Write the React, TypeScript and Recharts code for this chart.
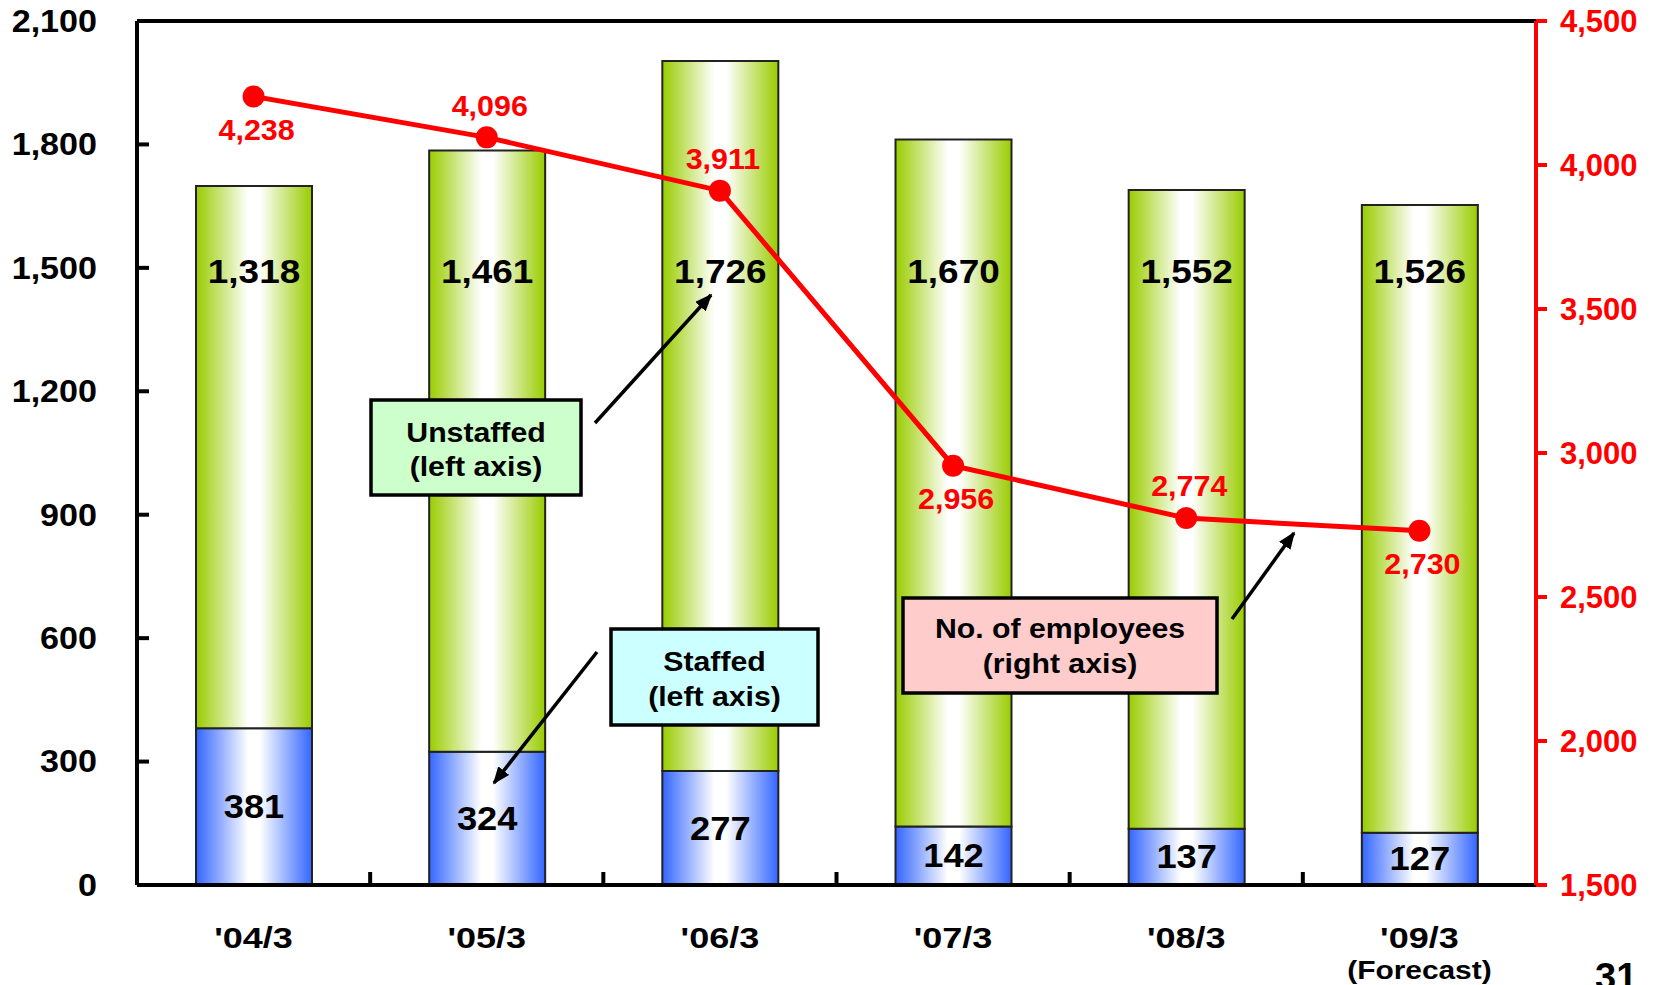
import { ComposedChart, Bar, Line, XAxis, YAxis, LabelList, ReferenceLine } from "recharts";

const categories = ["'04/3", "'05/3", "'06/3", "'07/3", "'08/3", "'09/3"];
const staffed = [381, 324, 277, 142, 137, 127];
const unstaffed = [1318, 1461, 1726, 1670, 1552, 1526];
const employees = [4238, 4096, 3911, 2956, 2774, 2730];
const leftTicks = [0, 300, 600, 900, 1200, 1500, 1800, 2100];
const rightTicks = [1500, 2000, 2500, 3000, 3500, 4000, 4500];
const forecastNote = "(Forecast)";
const pageNumber = "31";

// where each employee label sits relative to its point
const employeeLabelSide = ["below", "above", "above", "below", "above", "below"];

const W = 1656;
const H = 985;
const MARGIN = { top: 21, right: 20, bottom: 40, left: 37 };
const AXIS_W = 100;
const XAXIS_H = 60;
const PLOT_W = W - MARGIN.left - MARGIN.right - 2 * AXIS_W;
const BAND = PLOT_W / categories.length;
const UNSTAFFED_LABEL_LEVEL = 1492; // left-axis value where the green labels sit

const FONT = "'Liberation Sans', Arial, sans-serif";
const RED = "#FF0000";

const fmt = (n: number) => n.toLocaleString("en-US");

const data = categories.map((name, i) => ({
  name,
  staffed: staffed[i],
  unstaffed: unstaffed[i],
  employees: employees[i],
}));

// the slide's text is a bit wider than plain Arial, so stretch it horizontally
const SText = ({ x, y, sx = 1, size, anchor = "middle", fill = "#000", dy, children }: any) => (
  <text
    transform={`translate(${x} ${y}) scale(${sx} 1)`}
    x={0}
    y={0}
    dy={dy}
    textAnchor={anchor}
    fontFamily={FONT}
    fontSize={size}
    fontWeight="bold"
    fill={fill}
  >
    {children}
  </text>
);

const LeftTick = (props: any) => {
  const { x, y, payload } = props;
  return (
    <g>
      <SText x={x} y={y} dy="0.35em" sx={1.1} size={31} anchor="end">
        {fmt(payload.value)}
      </SText>
      <line x1={x + 40} x2={x + 52} y1={y} y2={y} stroke="#000" strokeWidth={4} />
    </g>
  );
};

const RightTick = (props: any) => {
  const { x, y, payload } = props;
  return (
    <SText x={x} y={y} dy="0.35em" sx={1.0} size={31} anchor="start" fill={RED}>
      {fmt(payload.value)}
    </SText>
  );
};

const CategoryTick = (props: any) => {
  const { x, y, payload, index } = props;
  const last = index === categories.length - 1;
  return (
    <g>
      <SText x={x} y={y + 63} sx={1.2} size={30}>
        {payload.value}
      </SText>
      {last && (
        <SText x={x} y={y + 94} sx={1.15} size={26}>
          {forecastNote}
        </SText>
      )}
      {!last && <line x1={x + BAND / 2} x2={x + BAND / 2} y1={y - 13} y2={y} stroke="#000" strokeWidth={4} />}
    </g>
  );
};

const StaffedLabel = (props: any) => {
  const vb = props.viewBox ?? props;
  const i = props.index ?? 0;
  const { x, y, width, height } = vb;
  return (
    <SText x={x + width / 2} y={y + height / 2} dy="0.35em" sx={1.1} size={33}>
      {fmt(staffed[i])}
    </SText>
  );
};

const UnstaffedLabel = (props: any) => {
  const vb = props.viewBox ?? props;
  const i = props.index ?? 0;
  const { x, y, width, height } = vb;
  const ppu = height / unstaffed[i];
  const zeroY = y + height + staffed[i] * ppu;
  const ly = zeroY - UNSTAFFED_LABEL_LEVEL * ppu;
  return (
    <SText x={x + width / 2} y={ly} dy="0.35em" sx={1.12} size={33}>
      {fmt(unstaffed[i])}
    </SText>
  );
};

const EmployeeLabel = (props: any) => {
  const { x, y, index } = props;
  const below = employeeLabelSide[index] === "below";
  return (
    <SText x={x + 3} y={below ? y + 33 : y - 32} dy="0.35em" sx={1.05} size={29} fill={RED}>
      {fmt(employees[index])}
    </SText>
  );
};

const Callout = ({ x, y, w, h, fill, lines, baselines }: any) => (
  <g>
    <rect x={x} y={y} width={w} height={h} fill={fill} stroke="#000" strokeWidth={3.5} />
    {lines.map((t: string, k: number) => (
      <SText key={k} x={x + w / 2} y={baselines[k]} sx={1.08} size={28}>
        {t}
      </SText>
    ))}
  </g>
);

export default function App() {
  return (
    <div style={{ position: "absolute", left: 0, top: 0, width: W, height: H, background: "#fff", overflow: "hidden" }}>
      <ComposedChart width={W} height={H} data={data} margin={MARGIN}>
        <defs>
          <linearGradient id="gStaffed" x1="0" y1="0" x2="1" y2="0">
            <stop offset="0%" stopColor="#3366FF" />
            <stop offset="45%" stopColor="#FFFFFF" />
            <stop offset="55%" stopColor="#FFFFFF" />
            <stop offset="100%" stopColor="#3366FF" />
          </linearGradient>
          <linearGradient id="gUnstaffed" x1="0" y1="0" x2="1" y2="0">
            <stop offset="0%" stopColor="#99CC00" />
            <stop offset="45%" stopColor="#FFFFFF" />
            <stop offset="55%" stopColor="#FFFFFF" />
            <stop offset="100%" stopColor="#99CC00" />
          </linearGradient>
        </defs>
        <XAxis
          dataKey="name"
          height={XAXIS_H}
          tick={<CategoryTick />}
          tickLine={false}
          tickSize={0}
          tickMargin={0}
          interval={0}
          axisLine={{ stroke: "#000", strokeWidth: 4 }}
        />
        <YAxis
          yAxisId="left"
          width={AXIS_W}
          domain={[0, 2100]}
          ticks={leftTicks}
          interval={0}
          tick={<LeftTick />}
          tickLine={false}
          tickSize={0}
          tickMargin={40}
          axisLine={{ stroke: "#000", strokeWidth: 4 }}
        />
        <YAxis
          yAxisId="right"
          orientation="right"
          width={AXIS_W}
          domain={[1500, 4500]}
          ticks={rightTicks}
          interval={0}
          tick={<RightTick />}
          tickLine={{ stroke: RED, strokeWidth: 4 }}
          tickSize={11}
          tickMargin={13}
          axisLine={{ stroke: RED, strokeWidth: 4 }}
        />
        <ReferenceLine yAxisId="left" y={2100} stroke="#000" strokeWidth={4} />
        <Bar yAxisId="left" dataKey="staffed" stackId="s" barSize={116} fill="url(#gStaffed)" stroke="#222" strokeWidth={2} isAnimationActive={false}>
          <LabelList dataKey="staffed" content={<StaffedLabel />} />
        </Bar>
        <Bar yAxisId="left" dataKey="unstaffed" stackId="s" barSize={116} fill="url(#gUnstaffed)" stroke="#222" strokeWidth={2} isAnimationActive={false}>
          <LabelList dataKey="unstaffed" content={<UnstaffedLabel />} />
        </Bar>
        <Line
          yAxisId="right"
          dataKey="employees"
          stroke={RED}
          strokeWidth={5}
          dot={{ r: 11, fill: RED, stroke: "none" }}
          activeDot={false}
          isAnimationActive={false}
        >
          <LabelList dataKey="employees" content={<EmployeeLabel />} />
        </Line>
      </ComposedChart>
      <svg width={W} height={H} style={{ position: "absolute", left: 0, top: 0, pointerEvents: "none" }}>
        <defs>
          <marker id="arrowHead" markerWidth="5" markerHeight="4" refX="4.5" refY="2" orient="auto" markerUnits="strokeWidth">
            <path d="M0,0 L5,2 L0,4 z" fill="#000" />
          </marker>
        </defs>
        <line x1={595} y1={423} x2={711} y2={295} stroke="#000" strokeWidth={3.5} markerEnd="url(#arrowHead)" />
        <line x1={597} y1={652} x2={494} y2={783} stroke="#000" strokeWidth={3.5} markerEnd="url(#arrowHead)" />
        <line x1={1232} y1={619} x2={1294} y2={533} stroke="#000" strokeWidth={3.5} markerEnd="url(#arrowHead)" />
        <Callout x={371} y={400} w={210} h={95} fill="#CCFFCC" lines={["Unstaffed", "(left axis)"]} baselines={[442, 476]} />
        <Callout x={611} y={629} w={207} h={96} fill="#CCFFFF" lines={["Staffed", "(left axis)"]} baselines={[671, 706]} />
        <Callout x={903} y={598} w={314} h={95} fill="#FFCCCC" lines={["No. of employees", "(right axis)"]} baselines={[638, 673]} />
        <SText x={1595} y={990} size={38} anchor="start">
          {pageNumber}
        </SText>
      </svg>
    </div>
  );
}
